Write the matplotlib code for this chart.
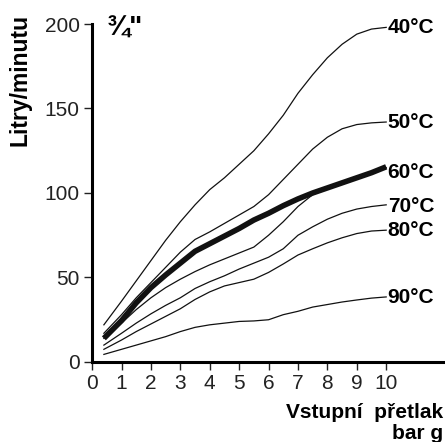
import matplotlib
matplotlib.use('Agg')
import matplotlib.pyplot as plt

plt.rcParams['font.family'] = ['Liberation Sans', 'DejaVu Sans']

# tlak (bar g)
x = [0.4, 1, 1.5, 2, 2.5, 3, 3.5, 4, 4.5, 5, 5.5, 6, 6.5, 7, 7.5, 8, 8.5, 9, 9.5, 10]

# prutok pro jednotlive teploty (l/min)
t40 = [22, 36, 48, 60, 72, 83, 93, 102, 109, 117, 125, 135, 146, 159, 170, 180, 188, 194, 197, 198]
t50 = [17, 28, 38, 47, 56, 65, 72.5, 77, 82, 87, 92, 99, 108, 117, 126, 133, 138, 140.5, 141.5, 142]
t60 = [14, 24.5, 35, 44, 51.5, 58.5, 65.5, 70, 74.5, 79, 84, 88, 92.5, 96.5, 100, 103, 106, 109, 112, 115.5]
t60b = [14, 23, 31, 38, 44, 49, 53.5, 57.5, 61, 64.5, 68, 75, 83, 92, 99, 103, 106.5, 109.5, 112.5, 115]
t70 = [10, 17, 23, 28.5, 33.5, 38, 43.5, 47.5, 51, 55, 58.5, 62, 67, 75, 80, 84.5, 88, 90.5, 92, 93]
t80 = [7.5, 13, 18, 22.5, 27, 31.5, 37, 41.5, 45, 47, 49, 53, 58, 63.3, 67, 70.5, 73.5, 76, 77.5, 78]
t90 = [4.5, 7.5, 10, 12.5, 15, 18, 20.5, 22, 23, 24, 24.3, 25, 28, 30, 32.5, 34, 35.5, 36.7, 37.8, 38.5]

labels = ['40°C', '50°C', '60°C', '70°C', '80°C', '90°C']
label_y = [198, 142, 112, 92, 78, 38]

fig = plt.figure(figsize=(4.45, 4.42), dpi=100)
ax = fig.add_axes([0.207, 0.181, 0.793, 0.7647])

for s in [t40, t50, t60b, t70, t80, t90]:
    ax.plot(x, s, color='#111111', lw=0.9)
ax.plot(x, t60, color='#111111', lw=4, solid_capstyle='butt')

for lab, yy in zip(labels, label_y):
    ax.text(10.05, yy, lab, ha='left', va='center', fontsize=15, fontweight='bold')

ax.text(0.5, 197.5, '¾"', ha='left', va='center', fontsize=20, fontweight='bold')

ax.set_xlim(0, 12)
ax.set_ylim(0, 200)
ax.set_xticks(range(0, 11))
ax.set_yticks([0, 50, 100, 150, 200])
ax.spines['top'].set_visible(False)
ax.spines['right'].set_visible(False)
ax.spines['left'].set_linewidth(2.2)
ax.spines['bottom'].set_linewidth(2.2)
ax.tick_params(length=6, width=1, pad=3, labelsize=15, labelcolor='#222222', color='#222222')

fig.text(0.995, 0.088, 'Vstupní  přetlak\nbar g', ha='right', va='top', fontsize=15,
         fontweight='bold', multialignment='right', linespacing=1.15)
fig.text(0.045, 0.82, 'Litry/minutu', rotation=90, ha='center', va='center',
         fontsize=16.5, fontweight='bold')

fig.savefig('out.png', dpi=100)
